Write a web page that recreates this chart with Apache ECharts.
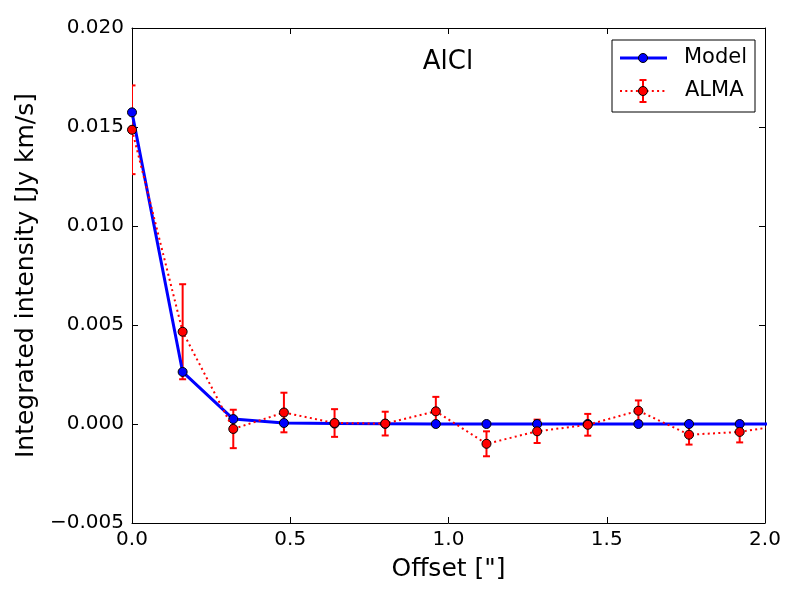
<!DOCTYPE html>
<html>
<head>
<meta charset="utf-8">
<script src="https://cdn.jsdelivr.net/npm/echarts@6/dist/echarts.min.js"></script>
<style>
  html, body { margin: 0; padding: 0; background: #fff; }
  #chart { width: 800px; height: 600px; }
</style>
</head>
<body>
<div id="chart"></div>
<script>
var chartDom = document.getElementById('chart');
var myChart = echarts.init(chartDom);

// offsets along the cut (arcsec), last one sits just past the axis edge
var offsets = [0, 0.16, 0.32, 0.48, 0.64, 0.80, 0.96, 1.12, 1.28, 1.44, 1.60, 1.76, 1.92, 2.08];
var model = [0.01574, 0.00263, 0.00025, 0.00005, 0.00002, 0.00001, 0.0, 0.0, 0.0, 0.0, 0.0, 0.0, 0.0, 0.0];
var alma = [0.01486, 0.00466, -0.00025, 0.00058, 0.00005, 0.00002, 0.00064, -0.0010, -0.00037, -0.00004, 0.00067, -0.00054, -0.0004, 0.0];
var almaErr = [0.00224, 0.0024, 0.00097, 0.0010, 0.0007, 0.0006, 0.00073, 0.00063, 0.00059, 0.00055, 0.00052, 0.0005, 0.00053, 0.0005];

var xTicks = { min: 0, max: 2, interval: 0.5 };
var yTicks = { min: -0.005, max: 0.02, interval: 0.005 };

var FONT = 'DejaVu Sans';

var modelData = offsets.map((x, i) => [x, model[i]]);
var almaData = offsets.map((x, i) => [x, alma[i]]);
var errData = offsets.map((x, i) => [x, alma[i] - almaErr[i], alma[i] + almaErr[i]]);

function renderErr(params, api) {
  var lo = api.coord([api.value(0), api.value(1)]);
  var hi = api.coord([api.value(0), api.value(2)]);
  var cap = 3.5;
  var st = { stroke: '#ff0000', lineWidth: 2 };
  return {
    type: 'group',
    children: [
      { type: 'line', shape: { x1: lo[0], y1: lo[1], x2: hi[0], y2: hi[1] }, style: st },
      { type: 'line', shape: { x1: lo[0] - cap, y1: lo[1], x2: lo[0] + cap, y2: lo[1] }, style: st },
      { type: 'line', shape: { x1: hi[0] - cap, y1: hi[1], x2: hi[0] + cap, y2: hi[1] }, style: st }
    ]
  };
}

var spine = { show: true, onZero: false, lineStyle: { color: '#000', width: 1 } };
var ticks = { show: true, inside: true, length: 6, lineStyle: { color: '#000', width: 1 } };

var option = {
  animation: false,
  backgroundColor: '#fff',
  grid: { left: 132, right: 35, top: 28, bottom: 77 },
  xAxis: [
    {
      type: 'value',
      min: xTicks.min, max: xTicks.max, interval: xTicks.interval,
      name: 'Offset ["]',
      nameLocation: 'middle',
      nameGap: 34,
      nameTextStyle: { fontFamily: FONT, fontSize: 25, color: '#000' },
      axisLine: spine,
      axisTick: ticks,
      splitLine: { show: false },
      axisLabel: {
        margin: 7,
        fontFamily: FONT, fontSize: 20, color: '#000',
        formatter: v => v.toFixed(1)
      }
    },
    {
      type: 'value', position: 'top',
      min: xTicks.min, max: xTicks.max, interval: xTicks.interval,
      axisLine: spine, axisTick: ticks,
      axisLabel: { show: false }, splitLine: { show: false }
    }
  ],
  yAxis: [
    {
      type: 'value',
      min: yTicks.min, max: yTicks.max, interval: yTicks.interval,
      name: 'Integrated intensity [Jy km/s]',
      nameLocation: 'middle',
      nameGap: 86,
      nameTextStyle: { fontFamily: FONT, fontSize: 25, color: '#000' },
      axisLine: spine,
      axisTick: ticks,
      splitLine: { show: false },
      axisLabel: {
        margin: 8,
        fontFamily: FONT, fontSize: 20, color: '#000',
        formatter: v => {
          var s = Math.abs(v) < 1e-9 ? '0.000' : v.toFixed(3);
          return s.replace('-', '\u2212');
        }
      }
    },
    {
      type: 'value', position: 'right',
      min: yTicks.min, max: yTicks.max, interval: yTicks.interval,
      axisLine: spine, axisTick: ticks,
      axisLabel: { show: false }, splitLine: { show: false }
    }
  ],
  series: [
    {
      name: 'ALMA errors',
      type: 'custom',
      renderItem: renderErr,
      data: errData,
      encode: { x: 0, y: [1, 2] },
      clip: true,
      z: 1
    },
    {
      name: 'Model',
      type: 'line',
      data: modelData,
      clip: true,
      symbol: 'circle',
      symbolSize: 9,
      lineStyle: { color: '#0000ff', width: 3 },
      itemStyle: { color: '#0000ff', borderColor: '#000', borderWidth: 1 },
      z: 2
    },
    {
      name: 'ALMA',
      type: 'line',
      data: almaData,
      clip: true,
      symbol: 'circle',
      symbolSize: 9,
      lineStyle: { color: '#ff0000', width: 2, type: [2, 3.3] },
      itemStyle: { color: '#ff0000', borderColor: '#000', borderWidth: 1 },
      z: 3
    }
  ],
  graphic: [
    // title inside the plot
    {
      type: 'text', x: 448, y: 62,
      style: { text: 'AlCl', fontFamily: FONT, fontSize: 26, fill: '#000', textAlign: 'center', textVerticalAlign: 'middle' }
    },
    // legend box
    {
      type: 'rect', shape: { x: 612, y: 40, width: 143, height: 72 },
      style: { fill: '#fff', stroke: '#000', lineWidth: 1 }, z: 10
    },
    { type: 'line', shape: { x1: 620, y1: 58, x2: 667, y2: 58 }, style: { stroke: '#0000ff', lineWidth: 3 }, z: 11 },
    { type: 'circle', shape: { cx: 643, cy: 58, r: 4.5 }, style: { fill: '#0000ff', stroke: '#000', lineWidth: 1 }, z: 12 },
    {
      type: 'text', x: 684, y: 58, z: 11,
      style: { text: 'Model', fontFamily: FONT, fontSize: 21, fill: '#000', textVerticalAlign: 'middle' }
    },
    { type: 'line', shape: { x1: 620, y1: 91, x2: 667, y2: 91 }, style: { stroke: '#ff0000', lineWidth: 2, lineDash: [2, 3.3] }, z: 11 },
    { type: 'line', shape: { x1: 643, y1: 80, x2: 643, y2: 102 }, style: { stroke: '#ff0000', lineWidth: 2 }, z: 11 },
    { type: 'line', shape: { x1: 639.5, y1: 80, x2: 646.5, y2: 80 }, style: { stroke: '#ff0000', lineWidth: 2 }, z: 11 },
    { type: 'line', shape: { x1: 639.5, y1: 102, x2: 646.5, y2: 102 }, style: { stroke: '#ff0000', lineWidth: 2 }, z: 11 },
    { type: 'circle', shape: { cx: 643, cy: 91, r: 4.5 }, style: { fill: '#ff0000', stroke: '#000', lineWidth: 1 }, z: 12 },
    {
      type: 'text', x: 685, y: 91, z: 11,
      style: { text: 'ALMA', fontFamily: FONT, fontSize: 21, fill: '#000', textVerticalAlign: 'middle' }
    }
  ]
};

myChart.setOption(option);
window.onresize = function () {
  myChart.resize();
};
</script>
</body>
</html>
